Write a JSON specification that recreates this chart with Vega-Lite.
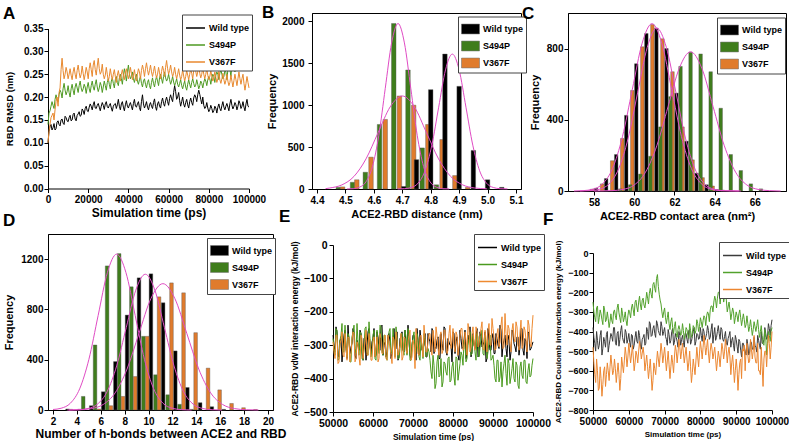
{
  "$schema": "https://vega.github.io/schema/vega-lite/v6.json",
  "padding": {"left": 2, "top": 3, "right": 0, "bottom": 0},
  "config": {
    "font": "Liberation Sans",
    "view": {"stroke": null},
    "axis": {
      "labelFont": "Liberation Sans", "labelFontWeight": "bold", "labelColor": "black", "labelFontSize": 10,
      "titleFont": "Liberation Sans", "titleFontWeight": "bold", "titleColor": "black",
      "domainColor": "black", "tickColor": "black", "grid": false, "tickSize": 4,
      "labelPadding": 2, "labelFlush": false, "labelOverlap": false
    },
    "legend": {
      "labelFont": "Liberation Sans", "labelFontWeight": "bold", "labelFontSize": 9, "labelColor": "black",
      "strokeColor": "#444", "fillColor": "white", "padding": 3, "rowPadding": 1, "labelOffset": 3
    },
    "title": {"font": "Liberation Sans", "fontSize": 17, "fontWeight": "bold", "color": "black", "anchor": "start", "frame": "group", "offset": 0, "baseline": "alphabetic"}
  },
  "datasets": {
    "aW": [{"t":0,"v":0.1},{"t":1000,"v":0.135},{"t":2000,"v":0.128},{"t":3000,"v":0.142},{"t":4000,"v":0.131},{"t":5000,"v":0.148},{"t":6000,"v":0.137},{"t":7000,"v":0.152},{"t":8000,"v":0.14},{"t":9000,"v":0.155},{"t":10000,"v":0.146},{"t":11000,"v":0.16},{"t":12000,"v":0.15},{"t":13000,"v":0.165},{"t":14000,"v":0.148},{"t":15000,"v":0.163},{"t":16000,"v":0.158},{"t":17000,"v":0.174},{"t":18000,"v":0.162},{"t":19000,"v":0.18},{"t":20000,"v":0.168},{"t":21000,"v":0.185},{"t":22000,"v":0.172},{"t":23000,"v":0.19},{"t":24000,"v":0.175},{"t":25000,"v":0.186},{"t":26000,"v":0.17},{"t":27000,"v":0.188},{"t":28000,"v":0.173},{"t":29000,"v":0.19},{"t":30000,"v":0.176},{"t":31000,"v":0.186},{"t":32000,"v":0.169},{"t":33000,"v":0.184},{"t":34000,"v":0.175},{"t":35000,"v":0.195},{"t":36000,"v":0.172},{"t":37000,"v":0.19},{"t":38000,"v":0.17},{"t":39000,"v":0.192},{"t":40000,"v":0.176},{"t":41000,"v":0.188},{"t":42000,"v":0.172},{"t":43000,"v":0.195},{"t":44000,"v":0.178},{"t":45000,"v":0.19},{"t":46000,"v":0.17},{"t":47000,"v":0.205},{"t":48000,"v":0.176},{"t":49000,"v":0.19},{"t":50000,"v":0.172},{"t":51000,"v":0.188},{"t":52000,"v":0.175},{"t":53000,"v":0.196},{"t":54000,"v":0.171},{"t":55000,"v":0.19},{"t":56000,"v":0.176},{"t":57000,"v":0.198},{"t":58000,"v":0.18},{"t":59000,"v":0.2},{"t":60000,"v":0.182},{"t":61000,"v":0.205},{"t":62000,"v":0.19},{"t":63000,"v":0.225},{"t":64000,"v":0.195},{"t":65000,"v":0.21},{"t":66000,"v":0.18},{"t":67000,"v":0.2},{"t":68000,"v":0.178},{"t":69000,"v":0.195},{"t":70000,"v":0.176},{"t":71000,"v":0.198},{"t":72000,"v":0.182},{"t":73000,"v":0.205},{"t":74000,"v":0.19},{"t":75000,"v":0.215},{"t":76000,"v":0.195},{"t":77000,"v":0.2},{"t":78000,"v":0.175},{"t":79000,"v":0.188},{"t":80000,"v":0.168},{"t":81000,"v":0.182},{"t":82000,"v":0.166},{"t":83000,"v":0.18},{"t":84000,"v":0.165},{"t":85000,"v":0.185},{"t":86000,"v":0.17},{"t":87000,"v":0.19},{"t":88000,"v":0.172},{"t":89000,"v":0.186},{"t":90000,"v":0.17},{"t":91000,"v":0.195},{"t":92000,"v":0.174},{"t":93000,"v":0.188},{"t":94000,"v":0.172},{"t":95000,"v":0.192},{"t":96000,"v":0.175},{"t":97000,"v":0.19},{"t":98000,"v":0.17},{"t":99000,"v":0.195},{"t":100000,"v":0.178},
      {"t":500,"v":0.125},{"t":1500,"v":0.14},{"t":2500,"v":0.133},{"t":3500,"v":0.128},{"t":4500,"v":0.145},{"t":5500,"v":0.14},{"t":6500,"v":0.15},{"t":7500,"v":0.143},{"t":8500,"v":0.158},{"t":9500,"v":0.148},{"t":10500,"v":0.155},{"t":11500,"v":0.148},{"t":12500,"v":0.162},{"t":13500,"v":0.152},{"t":14500,"v":0.16},{"t":15500,"v":0.168},{"t":16500,"v":0.16},{"t":17500,"v":0.17},{"t":18500,"v":0.175},{"t":19500,"v":0.17},{"t":20500,"v":0.178},{"t":21500,"v":0.18},{"t":22500,"v":0.183},{"t":23500,"v":0.176},{"t":24500,"v":0.182},{"t":25500,"v":0.178},{"t":26500,"v":0.18},{"t":27500,"v":0.182},{"t":28500,"v":0.185},{"t":29500,"v":0.179},{"t":30500,"v":0.182},{"t":31500,"v":0.176},{"t":32500,"v":0.18},{"t":33500,"v":0.186},{"t":34500,"v":0.183},{"t":35500,"v":0.18},{"t":36500,"v":0.185},{"t":37500,"v":0.178},{"t":38500,"v":0.183},{"t":39500,"v":0.18},{"t":40500,"v":0.183},{"t":41500,"v":0.18},{"t":42500,"v":0.186},{"t":43500,"v":0.18},{"t":44500,"v":0.185},{"t":45500,"v":0.177},{"t":46500,"v":0.19},{"t":47500,"v":0.185},{"t":48500,"v":0.182},{"t":49500,"v":0.178},{"t":50500,"v":0.183},{"t":51500,"v":0.18},{"t":52500,"v":0.188},{"t":53500,"v":0.179},{"t":54500,"v":0.185},{"t":55500,"v":0.18},{"t":56500,"v":0.19},{"t":57500,"v":0.186},{"t":58500,"v":0.192},{"t":59500,"v":0.19},{"t":60500,"v":0.197},{"t":61500,"v":0.196},{"t":62500,"v":0.21},{"t":63500,"v":0.212},{"t":64500,"v":0.2},{"t":65500,"v":0.192},{"t":66500,"v":0.19},{"t":67500,"v":0.185},{"t":68500,"v":0.188},{"t":69500,"v":0.183},{"t":70500,"v":0.19},{"t":71500,"v":0.188},{"t":72500,"v":0.198},{"t":73500,"v":0.2},{"t":74500,"v":0.205},{"t":75500,"v":0.206},{"t":76500,"v":0.185},{"t":77500,"v":0.182},{"t":78500,"v":0.178},{"t":79500,"v":0.176},{"t":80500,"v":0.173},{"t":81500,"v":0.175},{"t":82500,"v":0.17},{"t":83500,"v":0.176},{"t":84500,"v":0.178},{"t":85500,"v":0.175},{"t":86500,"v":0.181},{"t":87500,"v":0.178},{"t":88500,"v":0.18},{"t":89500,"v":0.178},{"t":90500,"v":0.185},{"t":91500,"v":0.182},{"t":92500,"v":0.18},{"t":93500,"v":0.183},{"t":94500,"v":0.18},{"t":95500,"v":0.186},{"t":96500,"v":0.18},{"t":97500,"v":0.178},{"t":98500,"v":0.185},{"t":99500,"v":0.18}],
    "aS": [{"t":0,"v":0.14},{"t":1000,"v":0.17},{"t":2000,"v":0.19},{"t":3000,"v":0.175},{"t":4000,"v":0.205},{"t":5000,"v":0.19},{"t":6000,"v":0.215},{"t":7000,"v":0.198},{"t":8000,"v":0.23},{"t":9000,"v":0.205},{"t":10000,"v":0.225},{"t":11000,"v":0.2},{"t":12000,"v":0.228},{"t":13000,"v":0.205},{"t":14000,"v":0.23},{"t":15000,"v":0.21},{"t":16000,"v":0.235},{"t":17000,"v":0.212},{"t":18000,"v":0.228},{"t":19000,"v":0.208},{"t":20000,"v":0.232},{"t":21000,"v":0.21},{"t":22000,"v":0.235},{"t":23000,"v":0.215},{"t":24000,"v":0.238},{"t":25000,"v":0.212},{"t":26000,"v":0.232},{"t":27000,"v":0.21},{"t":28000,"v":0.235},{"t":29000,"v":0.215},{"t":30000,"v":0.24},{"t":31000,"v":0.218},{"t":32000,"v":0.242},{"t":33000,"v":0.22},{"t":34000,"v":0.245},{"t":35000,"v":0.225},{"t":36000,"v":0.25},{"t":37000,"v":0.228},{"t":38000,"v":0.262},{"t":39000,"v":0.235},{"t":40000,"v":0.27},{"t":41000,"v":0.24},{"t":42000,"v":0.255},{"t":43000,"v":0.232},{"t":44000,"v":0.25},{"t":45000,"v":0.228},{"t":46000,"v":0.245},{"t":47000,"v":0.222},{"t":48000,"v":0.24},{"t":49000,"v":0.22},{"t":50000,"v":0.238},{"t":51000,"v":0.218},{"t":52000,"v":0.242},{"t":53000,"v":0.222},{"t":54000,"v":0.245},{"t":55000,"v":0.225},{"t":56000,"v":0.25},{"t":57000,"v":0.23},{"t":58000,"v":0.255},{"t":59000,"v":0.235},{"t":60000,"v":0.25},{"t":61000,"v":0.228},{"t":62000,"v":0.245},{"t":63000,"v":0.225},{"t":64000,"v":0.24},{"t":65000,"v":0.222},{"t":66000,"v":0.238},{"t":67000,"v":0.218},{"t":68000,"v":0.235},{"t":69000,"v":0.215},{"t":70000,"v":0.238},{"t":71000,"v":0.22},{"t":72000,"v":0.24},{"t":73000,"v":0.222},{"t":74000,"v":0.238},{"t":75000,"v":0.218},{"t":76000,"v":0.235},{"t":77000,"v":0.22},{"t":78000,"v":0.24},{"t":79000,"v":0.225},{"t":80000,"v":0.245},{"t":81000,"v":0.228},{"t":82000,"v":0.25},{"t":83000,"v":0.232},{"t":84000,"v":0.255},{"t":85000,"v":0.238},{"t":86000,"v":0.26},{"t":87000,"v":0.24},{"t":88000,"v":0.258},{"t":89000,"v":0.238},{"t":90000,"v":0.27},{"t":91000,"v":0.245},{"t":92000,"v":0.28},{"t":93000,"v":0.255},{"t":94000,"v":0.3},{"t":95000,"v":0.262},{"t":96000,"v":0.285},{"t":97000,"v":0.26},{"t":98000,"v":0.29},{"t":99000,"v":0.265},{"t":100000,"v":0.3},
      {"t":500,"v":0.165},{"t":1500,"v":0.18},{"t":2500,"v":0.182},{"t":3500,"v":0.195},{"t":4500,"v":0.195},{"t":5500,"v":0.205},{"t":6500,"v":0.21},{"t":7500,"v":0.218},{"t":8500,"v":0.215},{"t":9500,"v":0.212},{"t":10500,"v":0.21},{"t":11500,"v":0.218},{"t":12500,"v":0.215},{"t":13500,"v":0.222},{"t":14500,"v":0.22},{"t":15500,"v":0.225},{"t":16500,"v":0.22},{"t":17500,"v":0.218},{"t":18500,"v":0.222},{"t":19500,"v":0.222},{"t":20500,"v":0.218},{"t":21500,"v":0.225},{"t":22500,"v":0.222},{"t":23500,"v":0.228},{"t":24500,"v":0.222},{"t":25500,"v":0.22},{"t":26500,"v":0.225},{"t":27500,"v":0.222},{"t":28500,"v":0.225},{"t":29500,"v":0.232},{"t":30500,"v":0.228},{"t":31500,"v":0.235},{"t":32500,"v":0.23},{"t":33500,"v":0.238},{"t":34500,"v":0.232},{"t":35500,"v":0.242},{"t":36500,"v":0.24},{"t":37500,"v":0.248},{"t":38500,"v":0.25},{"t":39500,"v":0.255},{"t":40500,"v":0.25},{"t":41500,"v":0.245},{"t":42500,"v":0.24},{"t":43500,"v":0.243},{"t":44500,"v":0.235},{"t":45500,"v":0.238},{"t":46500,"v":0.23},{"t":47500,"v":0.235},{"t":48500,"v":0.228},{"t":49500,"v":0.232},{"t":50500,"v":0.225},{"t":51500,"v":0.232},{"t":52500,"v":0.23},{"t":53500,"v":0.236},{"t":54500,"v":0.235},{"t":55500,"v":0.242},{"t":56500,"v":0.24},{"t":57500,"v":0.245},{"t":58500,"v":0.242},{"t":59500,"v":0.24},{"t":60500,"v":0.238},{"t":61500,"v":0.235},{"t":62500,"v":0.233},{"t":63500,"v":0.232},{"t":64500,"v":0.228},{"t":65500,"v":0.23},{"t":66500,"v":0.225},{"t":67500,"v":0.228},{"t":68500,"v":0.222},{"t":69500,"v":0.228},{"t":70500,"v":0.228},{"t":71500,"v":0.232},{"t":72500,"v":0.23},{"t":73500,"v":0.226},{"t":74500,"v":0.228},{"t":75500,"v":0.225},{"t":76500,"v":0.23},{"t":77500,"v":0.232},{"t":78500,"v":0.235},{"t":79500,"v":0.238},{"t":80500,"v":0.24},{"t":81500,"v":0.242},{"t":82500,"v":0.245},{"t":83500,"v":0.248},{"t":84500,"v":0.25},{"t":85500,"v":0.252},{"t":86500,"v":0.25},{"t":87500,"v":0.245},{"t":88500,"v":0.255},{"t":89500,"v":0.26},{"t":90500,"v":0.262},{"t":91500,"v":0.27},{"t":92500,"v":0.275},{"t":93500,"v":0.285},{"t":94500,"v":0.275},{"t":95500,"v":0.27},{"t":96500,"v":0.275},{"t":97500,"v":0.28},{"t":98500,"v":0.282},{"t":99500,"v":0.285}],
    "aV": [{"t":0,"v":0.1},{"t":1000,"v":0.14},{"t":2000,"v":0.16},{"t":3000,"v":0.15},{"t":4000,"v":0.19},{"t":5000,"v":0.18},{"t":6000,"v":0.22},{"t":7000,"v":0.285},{"t":8000,"v":0.24},{"t":9000,"v":0.265},{"t":10000,"v":0.24},{"t":11000,"v":0.262},{"t":12000,"v":0.238},{"t":13000,"v":0.265},{"t":14000,"v":0.24},{"t":15000,"v":0.27},{"t":16000,"v":0.242},{"t":17000,"v":0.268},{"t":18000,"v":0.238},{"t":19000,"v":0.265},{"t":20000,"v":0.24},{"t":21000,"v":0.275},{"t":22000,"v":0.245},{"t":23000,"v":0.28},{"t":24000,"v":0.248},{"t":25000,"v":0.285},{"t":26000,"v":0.25},{"t":27000,"v":0.272},{"t":28000,"v":0.24},{"t":29000,"v":0.265},{"t":30000,"v":0.235},{"t":31000,"v":0.262},{"t":32000,"v":0.238},{"t":33000,"v":0.26},{"t":34000,"v":0.232},{"t":35000,"v":0.258},{"t":36000,"v":0.235},{"t":37000,"v":0.26},{"t":38000,"v":0.238},{"t":39000,"v":0.262},{"t":40000,"v":0.24},{"t":41000,"v":0.265},{"t":42000,"v":0.238},{"t":43000,"v":0.26},{"t":44000,"v":0.235},{"t":45000,"v":0.262},{"t":46000,"v":0.24},{"t":47000,"v":0.27},{"t":48000,"v":0.245},{"t":49000,"v":0.275},{"t":50000,"v":0.248},{"t":51000,"v":0.27},{"t":52000,"v":0.245},{"t":53000,"v":0.268},{"t":54000,"v":0.242},{"t":55000,"v":0.265},{"t":56000,"v":0.24},{"t":57000,"v":0.268},{"t":58000,"v":0.245},{"t":59000,"v":0.28},{"t":60000,"v":0.25},{"t":61000,"v":0.27},{"t":62000,"v":0.245},{"t":63000,"v":0.265},{"t":64000,"v":0.24},{"t":65000,"v":0.262},{"t":66000,"v":0.238},{"t":67000,"v":0.26},{"t":68000,"v":0.235},{"t":69000,"v":0.258},{"t":70000,"v":0.238},{"t":71000,"v":0.262},{"t":72000,"v":0.24},{"t":73000,"v":0.27},{"t":74000,"v":0.245},{"t":75000,"v":0.268},{"t":76000,"v":0.242},{"t":77000,"v":0.265},{"t":78000,"v":0.24},{"t":79000,"v":0.262},{"t":80000,"v":0.238},{"t":81000,"v":0.258},{"t":82000,"v":0.235},{"t":83000,"v":0.255},{"t":84000,"v":0.232},{"t":85000,"v":0.256},{"t":86000,"v":0.23},{"t":87000,"v":0.252},{"t":88000,"v":0.228},{"t":89000,"v":0.25},{"t":90000,"v":0.225},{"t":91000,"v":0.248},{"t":92000,"v":0.222},{"t":93000,"v":0.25},{"t":94000,"v":0.225},{"t":95000,"v":0.255},{"t":96000,"v":0.228},{"t":97000,"v":0.25},{"t":98000,"v":0.215},{"t":99000,"v":0.245},{"t":100000,"v":0.22},
      {"t":500,"v":0.125},{"t":1500,"v":0.155},{"t":2500,"v":0.165},{"t":3500,"v":0.172},{"t":4500,"v":0.2},{"t":5500,"v":0.21},{"t":6500,"v":0.26},{"t":7500,"v":0.258},{"t":8500,"v":0.25},{"t":9500,"v":0.255},{"t":10500,"v":0.25},{"t":11500,"v":0.248},{"t":12500,"v":0.255},{"t":13500,"v":0.25},{"t":14500,"v":0.258},{"t":15500,"v":0.254},{"t":16500,"v":0.25},{"t":17500,"v":0.252},{"t":18500,"v":0.25},{"t":19500,"v":0.255},{"t":20500,"v":0.262},{"t":21500,"v":0.26},{"t":22500,"v":0.27},{"t":23500,"v":0.26},{"t":24500,"v":0.268},{"t":25500,"v":0.262},{"t":26500,"v":0.255},{"t":27500,"v":0.25},{"t":28500,"v":0.248},{"t":29500,"v":0.25},{"t":30500,"v":0.245},{"t":31500,"v":0.248},{"t":32500,"v":0.25},{"t":33500,"v":0.245},{"t":34500,"v":0.248},{"t":35500,"v":0.245},{"t":36500,"v":0.25},{"t":37500,"v":0.248},{"t":38500,"v":0.252},{"t":39500,"v":0.25},{"t":40500,"v":0.25},{"t":41500,"v":0.252},{"t":42500,"v":0.248},{"t":43500,"v":0.245},{"t":44500,"v":0.25},{"t":45500,"v":0.255},{"t":46500,"v":0.258},{"t":47500,"v":0.26},{"t":48500,"v":0.262},{"t":49500,"v":0.26},{"t":50500,"v":0.258},{"t":51500,"v":0.255},{"t":52500,"v":0.256},{"t":53500,"v":0.252},{"t":54500,"v":0.25},{"t":55500,"v":0.253},{"t":56500,"v":0.256},{"t":57500,"v":0.258},{"t":58500,"v":0.265},{"t":59500,"v":0.262},{"t":60500,"v":0.258},{"t":61500,"v":0.255},{"t":62500,"v":0.252},{"t":63500,"v":0.25},{"t":64500,"v":0.25},{"t":65500,"v":0.248},{"t":66500,"v":0.245},{"t":67500,"v":0.246},{"t":68500,"v":0.245},{"t":69500,"v":0.248},{"t":70500,"v":0.25},{"t":71500,"v":0.252},{"t":72500,"v":0.258},{"t":73500,"v":0.256},{"t":74500,"v":0.255},{"t":75500,"v":0.252},{"t":76500,"v":0.25},{"t":77500,"v":0.25},{"t":78500,"v":0.25},{"t":79500,"v":0.248},{"t":80500,"v":0.245},{"t":81500,"v":0.245},{"t":82500,"v":0.242},{"t":83500,"v":0.243},{"t":84500,"v":0.24},{"t":85500,"v":0.238},{"t":86500,"v":0.24},{"t":87500,"v":0.238},{"t":88500,"v":0.236},{"t":89500,"v":0.235},{"t":90500,"v":0.232},{"t":91500,"v":0.235},{"t":92500,"v":0.236},{"t":93500,"v":0.238},{"t":94500,"v":0.24},{"t":95500,"v":0.24},{"t":96500,"v":0.24},{"t":97500,"v":0.23},{"t":98500,"v":0.23},{"t":99500,"v":0.232}],
    "eW": [{"t":50000,"v":-270},{"t":50500,"v":-320},{"t":51000,"v":-260},{"t":51500,"v":-335},{"t":52000,"v":-280},{"t":52500,"v":-310},{"t":53000,"v":-255},{"t":53500,"v":-340},{"t":54000,"v":-290},{"t":54500,"v":-305},{"t":55000,"v":-250},{"t":55500,"v":-330},{"t":56000,"v":-285},{"t":56500,"v":-315},{"t":57000,"v":-265},{"t":57500,"v":-345},{"t":58000,"v":-275},{"t":58500,"v":-300},{"t":59000,"v":-250},{"t":59500,"v":-325},{"t":60000,"v":-280},{"t":60500,"v":-335},{"t":61000,"v":-260},{"t":61500,"v":-310},{"t":62000,"v":-245},{"t":62500,"v":-330},{"t":63000,"v":-290},{"t":63500,"v":-320},{"t":64000,"v":-265},{"t":64500,"v":-340},{"t":65000,"v":-285},{"t":65500,"v":-305},{"t":66000,"v":-260},{"t":66500,"v":-335},{"t":67000,"v":-275},{"t":67500,"v":-315},{"t":68000,"v":-255},{"t":68500,"v":-325},{"t":69000,"v":-290},{"t":69500,"v":-340},{"t":70000,"v":-270},{"t":70500,"v":-300},{"t":71000,"v":-250},{"t":71500,"v":-330},{"t":72000,"v":-285},{"t":72500,"v":-310},{"t":73000,"v":-265},{"t":73500,"v":-335},{"t":74000,"v":-280},{"t":74500,"v":-320},{"t":75000,"v":-260},{"t":75500,"v":-305},{"t":76000,"v":-285},{"t":76500,"v":-340},{"t":77000,"v":-265},{"t":77500,"v":-315},{"t":78000,"v":-250},{"t":78500,"v":-330},{"t":79000,"v":-290},{"t":79500,"v":-300},{"t":80000,"v":-260},{"t":80500,"v":-325},{"t":81000,"v":-275},{"t":81500,"v":-345},{"t":82000,"v":-280},{"t":82500,"v":-305},{"t":83000,"v":-255},{"t":83500,"v":-320},{"t":84000,"v":-290},{"t":84500,"v":-335},{"t":85000,"v":-265},{"t":85500,"v":-310},{"t":86000,"v":-250},{"t":86500,"v":-330},{"t":87000,"v":-275},{"t":87500,"v":-300},{"t":88000,"v":-260},{"t":88500,"v":-340},{"t":89000,"v":-285},{"t":89500,"v":-315},{"t":90000,"v":-265},{"t":90500,"v":-325},{"t":91000,"v":-280},{"t":91500,"v":-310},{"t":92000,"v":-255},{"t":92500,"v":-300},{"t":93000,"v":-270},{"t":93500,"v":-335},{"t":94000,"v":-285},{"t":94500,"v":-320},{"t":95000,"v":-260},{"t":95500,"v":-305},{"t":96000,"v":-275},{"t":96500,"v":-330},{"t":97000,"v":-250},{"t":97500,"v":-315},{"t":98000,"v":-280},{"t":98500,"v":-340},{"t":99000,"v":-265},{"t":99500,"v":-310},{"t":100000,"v":-290},
      {"t":50250,"v":-300},{"t":50750,"v":-245},{"t":51250,"v":-330},{"t":51750,"v":-285},{"t":52250,"v":-350},{"t":52750,"v":-270},{"t":53250,"v":-310},{"t":53750,"v":-240},{"t":54250,"v":-325},{"t":54750,"v":-295},{"t":55250,"v":-265},{"t":55750,"v":-340},{"t":56250,"v":-300},{"t":56750,"v":-255},{"t":57250,"v":-320},{"t":57750,"v":-280},{"t":58250,"v":-345},{"t":58750,"v":-260},{"t":59250,"v":-305},{"t":59750,"v":-290},{"t":60250,"v":-250},{"t":60750,"v":-330},{"t":61250,"v":-275},{"t":61750,"v":-315},{"t":62250,"v":-240},{"t":62750,"v":-300},{"t":63250,"v":-335},{"t":63750,"v":-270},{"t":64250,"v":-290},{"t":64750,"v":-325},{"t":65250,"v":-250},{"t":65750,"v":-310},{"t":66250,"v":-345},{"t":66750,"v":-280},{"t":67250,"v":-260},{"t":67750,"v":-320},{"t":68250,"v":-295},{"t":68750,"v":-240},{"t":69250,"v":-330},{"t":69750,"v":-305},{"t":70250,"v":-270},{"t":70750,"v":-345},{"t":71250,"v":-285},{"t":71750,"v":-255},{"t":72250,"v":-315},{"t":72750,"v":-300},{"t":73250,"v":-335},{"t":73750,"v":-265},{"t":74250,"v":-290},{"t":74750,"v":-250},{"t":75250,"v":-325},{"t":75750,"v":-310},{"t":76250,"v":-275},{"t":76750,"v":-340},{"t":77250,"v":-295},{"t":77750,"v":-245},{"t":78250,"v":-320},{"t":78750,"v":-280},{"t":79250,"v":-300},{"t":79750,"v":-350},{"t":80250,"v":-265},{"t":80750,"v":-290},{"t":81250,"v":-330},{"t":81750,"v":-255},{"t":82250,"v":-310},{"t":82750,"v":-285},{"t":83250,"v":-340},{"t":83750,"v":-270},{"t":84250,"v":-245},{"t":84750,"v":-320},{"t":85250,"v":-300},{"t":85750,"v":-275},{"t":86250,"v":-335},{"t":86750,"v":-260},{"t":87250,"v":-305},{"t":87750,"v":-290},{"t":88250,"v":-350},{"t":88750,"v":-250},{"t":89250,"v":-315},{"t":89750,"v":-280},{"t":90250,"v":-325},{"t":90750,"v":-265},{"t":91250,"v":-300},{"t":91750,"v":-240},{"t":92250,"v":-335},{"t":92750,"v":-285},{"t":93250,"v":-310},{"t":93750,"v":-270},{"t":94250,"v":-345},{"t":94750,"v":-255},{"t":95250,"v":-295},{"t":95750,"v":-320},{"t":96250,"v":-275},{"t":96750,"v":-305},{"t":97250,"v":-250},{"t":97750,"v":-330},{"t":98250,"v":-290},{"t":98750,"v":-260},{"t":99250,"v":-315},{"t":99750,"v":-300}],
    "eS": [{"t":50000,"v":-280},{"t":50500,"v":-330},{"t":51000,"v":-255},{"t":51500,"v":-340},{"t":52000,"v":-270},{"t":52500,"v":-320},{"t":53000,"v":-240},{"t":53500,"v":-335},{"t":54000,"v":-275},{"t":54500,"v":-350},{"t":55000,"v":-260},{"t":55500,"v":-310},{"t":56000,"v":-235},{"t":56500,"v":-330},{"t":57000,"v":-265},{"t":57500,"v":-345},{"t":58000,"v":-250},{"t":58500,"v":-320},{"t":59000,"v":-230},{"t":59500,"v":-335},{"t":60000,"v":-270},{"t":60500,"v":-340},{"t":61000,"v":-255},{"t":61500,"v":-325},{"t":62000,"v":-245},{"t":62500,"v":-330},{"t":63000,"v":-270},{"t":63500,"v":-345},{"t":64000,"v":-260},{"t":64500,"v":-320},{"t":65000,"v":-250},{"t":65500,"v":-335},{"t":66000,"v":-275},{"t":66500,"v":-340},{"t":67000,"v":-265},{"t":67500,"v":-315},{"t":68000,"v":-255},{"t":68500,"v":-330},{"t":69000,"v":-270},{"t":69500,"v":-345},{"t":70000,"v":-280},{"t":70500,"v":-325},{"t":71000,"v":-265},{"t":71500,"v":-335},{"t":72000,"v":-285},{"t":72500,"v":-340},{"t":73000,"v":-290},{"t":73500,"v":-330},{"t":74000,"v":-320},{"t":74500,"v":-380},{"t":75000,"v":-330},{"t":75500,"v":-430},{"t":76000,"v":-350},{"t":76500,"v":-395},{"t":77000,"v":-340},{"t":77500,"v":-410},{"t":78000,"v":-355},{"t":78500,"v":-390},{"t":79000,"v":-335},{"t":79500,"v":-405},{"t":80000,"v":-350},{"t":80500,"v":-420},{"t":81000,"v":-340},{"t":81500,"v":-380},{"t":82000,"v":-320},{"t":82500,"v":-360},{"t":83000,"v":-300},{"t":83500,"v":-340},{"t":84000,"v":-280},{"t":84500,"v":-330},{"t":85000,"v":-270},{"t":85500,"v":-320},{"t":86000,"v":-265},{"t":86500,"v":-335},{"t":87000,"v":-280},{"t":87500,"v":-325},{"t":88000,"v":-270},{"t":88500,"v":-340},{"t":89000,"v":-290},{"t":89500,"v":-345},{"t":90000,"v":-330},{"t":90500,"v":-400},{"t":91000,"v":-345},{"t":91500,"v":-410},{"t":92000,"v":-350},{"t":92500,"v":-380},{"t":93000,"v":-330},{"t":93500,"v":-420},{"t":94000,"v":-355},{"t":94500,"v":-395},{"t":95000,"v":-340},{"t":95500,"v":-410},{"t":96000,"v":-360},{"t":96500,"v":-430},{"t":97000,"v":-350},{"t":97500,"v":-400},{"t":98000,"v":-345},{"t":98500,"v":-415},{"t":99000,"v":-355},{"t":99500,"v":-390},{"t":100000,"v":-340},
      {"t":50250,"v":-310},{"t":50750,"v":-250},{"t":51250,"v":-345},{"t":51750,"v":-285},{"t":52250,"v":-235},{"t":52750,"v":-320},{"t":53250,"v":-300},{"t":53750,"v":-265},{"t":54250,"v":-350},{"t":54750,"v":-275},{"t":55250,"v":-240},{"t":55750,"v":-325},{"t":56250,"v":-290},{"t":56750,"v":-260},{"t":57250,"v":-340},{"t":57750,"v":-305},{"t":58250,"v":-245},{"t":58750,"v":-330},{"t":59250,"v":-280},{"t":59750,"v":-315},{"t":60250,"v":-255},{"t":60750,"v":-345},{"t":61250,"v":-295},{"t":61750,"v":-240},{"t":62250,"v":-320},{"t":62750,"v":-270},{"t":63250,"v":-335},{"t":63750,"v":-300},{"t":64250,"v":-250},{"t":64750,"v":-325},{"t":65250,"v":-285},{"t":65750,"v":-245},{"t":66250,"v":-340},{"t":66750,"v":-310},{"t":67250,"v":-265},{"t":67750,"v":-330},{"t":68250,"v":-275},{"t":68750,"v":-250},{"t":69250,"v":-345},{"t":69750,"v":-295},{"t":70250,"v":-260},{"t":70750,"v":-320},{"t":71250,"v":-280},{"t":71750,"v":-345},{"t":72250,"v":-300},{"t":72750,"v":-265},{"t":73250,"v":-335},{"t":73750,"v":-310},{"t":74250,"v":-345},{"t":74750,"v":-400},{"t":75250,"v":-360},{"t":75750,"v":-415},{"t":76250,"v":-330},{"t":76750,"v":-390},{"t":77250,"v":-425},{"t":77750,"v":-350},{"t":78250,"v":-380},{"t":78750,"v":-340},{"t":79250,"v":-410},{"t":79750,"v":-365},{"t":80250,"v":-395},{"t":80750,"v":-335},{"t":81250,"v":-405},{"t":81750,"v":-355},{"t":82250,"v":-330},{"t":82750,"v":-285},{"t":83250,"v":-350},{"t":83750,"v":-300},{"t":84250,"v":-260},{"t":84750,"v":-325},{"t":85250,"v":-290},{"t":85750,"v":-345},{"t":86250,"v":-275},{"t":86750,"v":-310},{"t":87250,"v":-255},{"t":87750,"v":-330},{"t":88250,"v":-295},{"t":88750,"v":-320},{"t":89250,"v":-270},{"t":89750,"v":-340},{"t":90250,"v":-360},{"t":90750,"v":-410},{"t":91250,"v":-345},{"t":91750,"v":-395},{"t":92250,"v":-425},{"t":92750,"v":-355},{"t":93250,"v":-385},{"t":93750,"v":-340},{"t":94250,"v":-415},{"t":94750,"v":-370},{"t":95250,"v":-400},{"t":95750,"v":-350},{"t":96250,"v":-420},{"t":96750,"v":-365},{"t":97250,"v":-390},{"t":97750,"v":-345},{"t":98250,"v":-410},{"t":98750,"v":-375},{"t":99250,"v":-395},{"t":99750,"v":-360}],
    "eV": [{"t":50000,"v":-290},{"t":50500,"v":-340},{"t":51000,"v":-270},{"t":51500,"v":-350},{"t":52000,"v":-285},{"t":52500,"v":-330},{"t":53000,"v":-265},{"t":53500,"v":-345},{"t":54000,"v":-280},{"t":54500,"v":-325},{"t":55000,"v":-260},{"t":55500,"v":-350},{"t":56000,"v":-290},{"t":56500,"v":-335},{"t":57000,"v":-270},{"t":57500,"v":-340},{"t":58000,"v":-285},{"t":58500,"v":-330},{"t":59000,"v":-265},{"t":59500,"v":-345},{"t":60000,"v":-290},{"t":60500,"v":-335},{"t":61000,"v":-275},{"t":61500,"v":-340},{"t":62000,"v":-280},{"t":62500,"v":-325},{"t":63000,"v":-270},{"t":63500,"v":-345},{"t":64000,"v":-290},{"t":64500,"v":-330},{"t":65000,"v":-275},{"t":65500,"v":-340},{"t":66000,"v":-285},{"t":66500,"v":-320},{"t":67000,"v":-265},{"t":67500,"v":-335},{"t":68000,"v":-280},{"t":68500,"v":-325},{"t":69000,"v":-270},{"t":69500,"v":-345},{"t":70000,"v":-285},{"t":70500,"v":-370},{"t":71000,"v":-290},{"t":71500,"v":-330},{"t":72000,"v":-270},{"t":72500,"v":-335},{"t":73000,"v":-280},{"t":73500,"v":-320},{"t":74000,"v":-265},{"t":74500,"v":-315},{"t":75000,"v":-255},{"t":75500,"v":-320},{"t":76000,"v":-270},{"t":76500,"v":-330},{"t":77000,"v":-260},{"t":77500,"v":-315},{"t":78000,"v":-255},{"t":78500,"v":-325},{"t":79000,"v":-265},{"t":79500,"v":-310},{"t":80000,"v":-250},{"t":80500,"v":-320},{"t":81000,"v":-270},{"t":81500,"v":-305},{"t":82000,"v":-250},{"t":82500,"v":-315},{"t":83000,"v":-260},{"t":83500,"v":-330},{"t":84000,"v":-255},{"t":84500,"v":-305},{"t":85000,"v":-245},{"t":85500,"v":-315},{"t":86000,"v":-260},{"t":86500,"v":-300},{"t":87000,"v":-250},{"t":87500,"v":-310},{"t":88000,"v":-255},{"t":88500,"v":-320},{"t":89000,"v":-235},{"t":89500,"v":-300},{"t":90000,"v":-250},{"t":90500,"v":-315},{"t":91000,"v":-265},{"t":91500,"v":-305},{"t":92000,"v":-240},{"t":92500,"v":-310},{"t":93000,"v":-205},{"t":93500,"v":-300},{"t":94000,"v":-250},{"t":94500,"v":-320},{"t":95000,"v":-235},{"t":95500,"v":-290},{"t":96000,"v":-245},{"t":96500,"v":-315},{"t":97000,"v":-225},{"t":97500,"v":-300},{"t":98000,"v":-255},{"t":98500,"v":-320},{"t":99000,"v":-240},{"t":99500,"v":-305},{"t":100000,"v":-210},
      {"t":50250,"v":-320},{"t":50750,"v":-270},{"t":51250,"v":-355},{"t":51750,"v":-295},{"t":52250,"v":-260},{"t":52750,"v":-335},{"t":53250,"v":-305},{"t":53750,"v":-275},{"t":54250,"v":-350},{"t":54750,"v":-285},{"t":55250,"v":-265},{"t":55750,"v":-340},{"t":56250,"v":-300},{"t":56750,"v":-360},{"t":57250,"v":-280},{"t":57750,"v":-315},{"t":58250,"v":-255},{"t":58750,"v":-330},{"t":59250,"v":-295},{"t":59750,"v":-345},{"t":60250,"v":-275},{"t":60750,"v":-310},{"t":61250,"v":-350},{"t":61750,"v":-265},{"t":62250,"v":-325},{"t":62750,"v":-290},{"t":63250,"v":-340},{"t":63750,"v":-270},{"t":64250,"v":-305},{"t":64750,"v":-355},{"t":65250,"v":-285},{"t":65750,"v":-260},{"t":66250,"v":-330},{"t":66750,"v":-300},{"t":67250,"v":-345},{"t":67750,"v":-275},{"t":68250,"v":-315},{"t":68750,"v":-290},{"t":69250,"v":-255},{"t":69750,"v":-335},{"t":70250,"v":-300},{"t":70750,"v":-250},{"t":71250,"v":-325},{"t":71750,"v":-275},{"t":72250,"v":-305},{"t":72750,"v":-240},{"t":73250,"v":-320},{"t":73750,"v":-290},{"t":74250,"v":-265},{"t":74750,"v":-330},{"t":75250,"v":-280},{"t":75750,"v":-245},{"t":76250,"v":-310},{"t":76750,"v":-270},{"t":77250,"v":-325},{"t":77750,"v":-255},{"t":78250,"v":-295},{"t":78750,"v":-315},{"t":79250,"v":-240},{"t":79750,"v":-285},{"t":80250,"v":-300},{"t":80750,"v":-260},{"t":81250,"v":-330},{"t":81750,"v":-275},{"t":82250,"v":-250},{"t":82750,"v":-310},{"t":83250,"v":-285},{"t":83750,"v":-235},{"t":84250,"v":-320},{"t":84750,"v":-265},{"t":85250,"v":-295},{"t":85750,"v":-245},{"t":86250,"v":-305},{"t":86750,"v":-270},{"t":87250,"v":-230},{"t":87750,"v":-315},{"t":88250,"v":-280},{"t":88750,"v":-255},{"t":89250,"v":-300},{"t":89750,"v":-220},{"t":90250,"v":-275},{"t":90750,"v":-310},{"t":91250,"v":-250},{"t":91750,"v":-290},{"t":92250,"v":-215},{"t":92750,"v":-305},{"t":93250,"v":-265},{"t":93750,"v":-240},{"t":94250,"v":-295},{"t":94750,"v":-255},{"t":95250,"v":-280},{"t":95750,"v":-230},{"t":96250,"v":-300},{"t":96750,"v":-260},{"t":97250,"v":-310},{"t":97750,"v":-245},{"t":98250,"v":-285},{"t":98750,"v":-225},{"t":99250,"v":-295},{"t":99750,"v":-250}],
    "fW": [{"t":50000,"v":-380},{"t":50500,"v":-460},{"t":51000,"v":-400},{"t":51500,"v":-490},{"t":52000,"v":-420},{"t":52500,"v":-520},{"t":53000,"v":-430},{"t":53500,"v":-480},{"t":54000,"v":-400},{"t":54500,"v":-470},{"t":55000,"v":-410},{"t":55500,"v":-450},{"t":56000,"v":-380},{"t":56500,"v":-470},{"t":57000,"v":-400},{"t":57500,"v":-440},{"t":58000,"v":-370},{"t":58500,"v":-450},{"t":59000,"v":-390},{"t":59500,"v":-460},{"t":60000,"v":-410},{"t":60500,"v":-480},{"t":61000,"v":-420},{"t":61500,"v":-470},{"t":62000,"v":-400},{"t":62500,"v":-460},{"t":63000,"v":-420},{"t":63500,"v":-490},{"t":64000,"v":-430},{"t":64500,"v":-470},{"t":65000,"v":-380},{"t":65500,"v":-440},{"t":66000,"v":-360},{"t":66500,"v":-420},{"t":67000,"v":-370},{"t":67500,"v":-430},{"t":68000,"v":-360},{"t":68500,"v":-410},{"t":69000,"v":-350},{"t":69500,"v":-420},{"t":70000,"v":-380},{"t":70500,"v":-440},{"t":71000,"v":-390},{"t":71500,"v":-460},{"t":72000,"v":-400},{"t":72500,"v":-470},{"t":73000,"v":-410},{"t":73500,"v":-450},{"t":74000,"v":-400},{"t":74500,"v":-470},{"t":75000,"v":-420},{"t":75500,"v":-480},{"t":76000,"v":-410},{"t":76500,"v":-460},{"t":77000,"v":-390},{"t":77500,"v":-450},{"t":78000,"v":-400},{"t":78500,"v":-470},{"t":79000,"v":-410},{"t":79500,"v":-440},{"t":80000,"v":-380},{"t":80500,"v":-450},{"t":81000,"v":-400},{"t":81500,"v":-430},{"t":82000,"v":-370},{"t":82500,"v":-440},{"t":83000,"v":-390},{"t":83500,"v":-460},{"t":84000,"v":-380},{"t":84500,"v":-430},{"t":85000,"v":-370},{"t":85500,"v":-440},{"t":86000,"v":-390},{"t":86500,"v":-450},{"t":87000,"v":-400},{"t":87500,"v":-470},{"t":88000,"v":-420},{"t":88500,"v":-480},{"t":89000,"v":-430},{"t":89500,"v":-500},{"t":90000,"v":-440},{"t":90500,"v":-510},{"t":91000,"v":-450},{"t":91500,"v":-530},{"t":92000,"v":-460},{"t":92500,"v":-500},{"t":93000,"v":-440},{"t":93500,"v":-520},{"t":94000,"v":-450},{"t":94500,"v":-490},{"t":95000,"v":-430},{"t":95500,"v":-480},{"t":96000,"v":-420},{"t":96500,"v":-470},{"t":97000,"v":-400},{"t":97500,"v":-460},{"t":98000,"v":-380},{"t":98500,"v":-440},{"t":99000,"v":-360},{"t":99500,"v":-420},{"t":100000,"v":-340},
      {"t":50250,"v":-430},{"t":50750,"v":-500},{"t":51250,"v":-445},{"t":51750,"v":-470},{"t":52250,"v":-395},{"t":52750,"v":-485},{"t":53250,"v":-450},{"t":53750,"v":-415},{"t":54250,"v":-505},{"t":54750,"v":-440},{"t":55250,"v":-425},{"t":55750,"v":-380},{"t":56250,"v":-455},{"t":56750,"v":-410},{"t":57250,"v":-475},{"t":57750,"v":-395},{"t":58250,"v":-430},{"t":58750,"v":-460},{"t":59250,"v":-405},{"t":59750,"v":-440},{"t":60250,"v":-455},{"t":60750,"v":-415},{"t":61250,"v":-490},{"t":61750,"v":-430},{"t":62250,"v":-450},{"t":62750,"v":-395},{"t":63250,"v":-475},{"t":63750,"v":-440},{"t":64250,"v":-415},{"t":64750,"v":-460},{"t":65250,"v":-400},{"t":65750,"v":-350},{"t":66250,"v":-425},{"t":66750,"v":-385},{"t":67250,"v":-410},{"t":67750,"v":-345},{"t":68250,"v":-395},{"t":68750,"v":-420},{"t":69250,"v":-375},{"t":69750,"v":-400},{"t":70250,"v":-425},{"t":70750,"v":-470},{"t":71250,"v":-415},{"t":71750,"v":-445},{"t":72250,"v":-385},{"t":72750,"v":-455},{"t":73250,"v":-430},{"t":73750,"v":-480},{"t":74250,"v":-420},{"t":74750,"v":-440},{"t":75250,"v":-455},{"t":75750,"v":-410},{"t":76250,"v":-440},{"t":76750,"v":-395},{"t":77250,"v":-465},{"t":77750,"v":-425},{"t":78250,"v":-380},{"t":78750,"v":-450},{"t":79250,"v":-415},{"t":79750,"v":-435},{"t":80250,"v":-420},{"t":80750,"v":-385},{"t":81250,"v":-445},{"t":81750,"v":-410},{"t":82250,"v":-395},{"t":82750,"v":-430},{"t":83250,"v":-360},{"t":83750,"v":-415},{"t":84250,"v":-445},{"t":84750,"v":-400},{"t":85250,"v":-410},{"t":85750,"v":-380},{"t":86250,"v":-440},{"t":86750,"v":-425},{"t":87250,"v":-455},{"t":87750,"v":-435},{"t":88250,"v":-400},{"t":88750,"v":-445},{"t":89250,"v":-470},{"t":89750,"v":-420},{"t":90250,"v":-475},{"t":90750,"v":-440},{"t":91250,"v":-495},{"t":91750,"v":-460},{"t":92250,"v":-485},{"t":92750,"v":-520},{"t":93250,"v":-470},{"t":93750,"v":-505},{"t":94250,"v":-455},{"t":94750,"v":-490},{"t":95250,"v":-470},{"t":95750,"v":-505},{"t":96250,"v":-445},{"t":96750,"v":-490},{"t":97250,"v":-460},{"t":97750,"v":-440},{"t":98250,"v":-410},{"t":98750,"v":-425},{"t":99250,"v":-385},{"t":99750,"v":-370}],
    "fS": [{"t":50000,"v":-250},{"t":50500,"v":-330},{"t":51000,"v":-280},{"t":51500,"v":-360},{"t":52000,"v":-290},{"t":52500,"v":-340},{"t":53000,"v":-270},{"t":53500,"v":-350},{"t":54000,"v":-300},{"t":54500,"v":-380},{"t":55000,"v":-310},{"t":55500,"v":-360},{"t":56000,"v":-290},{"t":56500,"v":-340},{"t":57000,"v":-260},{"t":57500,"v":-330},{"t":58000,"v":-280},{"t":58500,"v":-350},{"t":59000,"v":-300},{"t":59500,"v":-370},{"t":60000,"v":-290},{"t":60500,"v":-330},{"t":61000,"v":-260},{"t":61500,"v":-320},{"t":62000,"v":-240},{"t":62500,"v":-300},{"t":63000,"v":-220},{"t":63500,"v":-290},{"t":64000,"v":-230},{"t":64500,"v":-280},{"t":65000,"v":-200},{"t":65500,"v":-260},{"t":66000,"v":-180},{"t":66500,"v":-230},{"t":67000,"v":-150},{"t":67500,"v":-200},{"t":68000,"v":-110},{"t":68500,"v":-210},{"t":69000,"v":-260},{"t":69500,"v":-330},{"t":70000,"v":-280},{"t":70500,"v":-360},{"t":71000,"v":-300},{"t":71500,"v":-390},{"t":72000,"v":-330},{"t":72500,"v":-410},{"t":73000,"v":-350},{"t":73500,"v":-430},{"t":74000,"v":-370},{"t":74500,"v":-420},{"t":75000,"v":-360},{"t":75500,"v":-440},{"t":76000,"v":-380},{"t":76500,"v":-420},{"t":77000,"v":-360},{"t":77500,"v":-430},{"t":78000,"v":-370},{"t":78500,"v":-410},{"t":79000,"v":-340},{"t":79500,"v":-400},{"t":80000,"v":-330},{"t":80500,"v":-380},{"t":81000,"v":-320},{"t":81500,"v":-370},{"t":82000,"v":-300},{"t":82500,"v":-350},{"t":83000,"v":-270},{"t":83500,"v":-300},{"t":84000,"v":-220},{"t":84500,"v":-280},{"t":85000,"v":-200},{"t":85500,"v":-260},{"t":86000,"v":-160},{"t":86500,"v":-250},{"t":87000,"v":-200},{"t":87500,"v":-300},{"t":88000,"v":-250},{"t":88500,"v":-340},{"t":89000,"v":-280},{"t":89500,"v":-360},{"t":90000,"v":-300},{"t":90500,"v":-350},{"t":91000,"v":-290},{"t":91500,"v":-370},{"t":92000,"v":-310},{"t":92500,"v":-380},{"t":93000,"v":-320},{"t":93500,"v":-400},{"t":94000,"v":-340},{"t":94500,"v":-420},{"t":95000,"v":-350},{"t":95500,"v":-400},{"t":96000,"v":-340},{"t":96500,"v":-430},{"t":97000,"v":-370},{"t":97500,"v":-460},{"t":98000,"v":-390},{"t":98500,"v":-520},{"t":99000,"v":-400},{"t":99500,"v":-450},{"t":100000,"v":-380},
      {"t":50250,"v":-300},{"t":50750,"v":-350},{"t":51250,"v":-270},{"t":51750,"v":-330},{"t":52250,"v":-310},{"t":52750,"v":-365},{"t":53250,"v":-290},{"t":53750,"v":-340},{"t":54250,"v":-335},{"t":54750,"v":-350},{"t":55250,"v":-345},{"t":55750,"v":-300},{"t":56250,"v":-320},{"t":56750,"v":-280},{"t":57250,"v":-305},{"t":57750,"v":-355},{"t":58250,"v":-310},{"t":58750,"v":-330},{"t":59250,"v":-345},{"t":59750,"v":-320},{"t":60250,"v":-305},{"t":60750,"v":-280},{"t":61250,"v":-290},{"t":61750,"v":-250},{"t":62250,"v":-275},{"t":62750,"v":-250},{"t":63250,"v":-265},{"t":63750,"v":-240},{"t":64250,"v":-265},{"t":64750,"v":-245},{"t":65250,"v":-230},{"t":65750,"v":-205},{"t":66250,"v":-210},{"t":66750,"v":-160},{"t":67250,"v":-180},{"t":67750,"v":-130},{"t":68250,"v":-170},{"t":68750,"v":-240},{"t":69250,"v":-300},{"t":69750,"v":-300},{"t":70250,"v":-330},{"t":70750,"v":-330},{"t":71250,"v":-360},{"t":71750,"v":-350},{"t":72250,"v":-380},{"t":72750,"v":-375},{"t":73250,"v":-410},{"t":73750,"v":-390},{"t":74250,"v":-390},{"t":74750,"v":-410},{"t":75250,"v":-395},{"t":75750,"v":-420},{"t":76250,"v":-390},{"t":76750,"v":-435},{"t":77250,"v":-395},{"t":77750,"v":-410},{"t":78250,"v":-380},{"t":78750,"v":-395},{"t":79250,"v":-360},{"t":79750,"v":-375},{"t":80250,"v":-350},{"t":80750,"v":-345},{"t":81250,"v":-330},{"t":81750,"v":-320},{"t":82250,"v":-310},{"t":82750,"v":-290},{"t":83250,"v":-270},{"t":83750,"v":-250},{"t":84250,"v":-240},{"t":84750,"v":-230},{"t":85250,"v":-200},{"t":85750,"v":-215},{"t":86250,"v":-190},{"t":86750,"v":-220},{"t":87250,"v":-240},{"t":87750,"v":-275},{"t":88250,"v":-290},{"t":88750,"v":-310},{"t":89250,"v":-300},{"t":89750,"v":-330},{"t":90250,"v":-320},{"t":90750,"v":-310},{"t":91250,"v":-330},{"t":91750,"v":-340},{"t":92250,"v":-340},{"t":92750,"v":-365},{"t":93250,"v":-360},{"t":93750,"v":-375},{"t":94250,"v":-380},{"t":94750,"v":-390},{"t":95250,"v":-375},{"t":95750,"v":-370},{"t":96250,"v":-390},{"t":96750,"v":-400},{"t":97250,"v":-420},{"t":97750,"v":-470},{"t":98250,"v":-430},{"t":98750,"v":-460},{"t":99250,"v":-420},{"t":99750,"v":-400}],
    "fV": [{"t":50000,"v":-480},{"t":50500,"v":-620},{"t":51000,"v":-540},{"t":51500,"v":-700},{"t":52000,"v":-580},{"t":52500,"v":-730},{"t":53000,"v":-600},{"t":53500,"v":-680},{"t":54000,"v":-560},{"t":54500,"v":-650},{"t":55000,"v":-520},{"t":55500,"v":-620},{"t":56000,"v":-540},{"t":56500,"v":-660},{"t":57000,"v":-560},{"t":57500,"v":-700},{"t":58000,"v":-530},{"t":58500,"v":-610},{"t":59000,"v":-480},{"t":59500,"v":-580},{"t":60000,"v":-460},{"t":60500,"v":-560},{"t":61000,"v":-470},{"t":61500,"v":-600},{"t":62000,"v":-500},{"t":62500,"v":-560},{"t":63000,"v":-450},{"t":63500,"v":-540},{"t":64000,"v":-480},{"t":64500,"v":-600},{"t":65000,"v":-520},{"t":65500,"v":-640},{"t":66000,"v":-540},{"t":66500,"v":-700},{"t":67000,"v":-560},{"t":67500,"v":-620},{"t":68000,"v":-500},{"t":68500,"v":-580},{"t":69000,"v":-460},{"t":69500,"v":-560},{"t":70000,"v":-480},{"t":70500,"v":-600},{"t":71000,"v":-500},{"t":71500,"v":-640},{"t":72000,"v":-520},{"t":72500,"v":-610},{"t":73000,"v":-470},{"t":73500,"v":-560},{"t":74000,"v":-440},{"t":74500,"v":-540},{"t":75000,"v":-460},{"t":75500,"v":-560},{"t":76000,"v":-480},{"t":76500,"v":-600},{"t":77000,"v":-500},{"t":77500,"v":-660},{"t":78000,"v":-540},{"t":78500,"v":-620},{"t":79000,"v":-480},{"t":79500,"v":-580},{"t":80000,"v":-450},{"t":80500,"v":-540},{"t":81000,"v":-420},{"t":81500,"v":-520},{"t":82000,"v":-440},{"t":82500,"v":-560},{"t":83000,"v":-460},{"t":83500,"v":-540},{"t":84000,"v":-480},{"t":84500,"v":-600},{"t":85000,"v":-500},{"t":85500,"v":-580},{"t":86000,"v":-460},{"t":86500,"v":-540},{"t":87000,"v":-440},{"t":87500,"v":-560},{"t":88000,"v":-480},{"t":88500,"v":-620},{"t":89000,"v":-520},{"t":89500,"v":-660},{"t":90000,"v":-540},{"t":90500,"v":-700},{"t":91000,"v":-560},{"t":91500,"v":-640},{"t":92000,"v":-500},{"t":92500,"v":-600},{"t":93000,"v":-460},{"t":93500,"v":-560},{"t":94000,"v":-440},{"t":94500,"v":-540},{"t":95000,"v":-420},{"t":95500,"v":-560},{"t":96000,"v":-460},{"t":96500,"v":-600},{"t":97000,"v":-480},{"t":97500,"v":-680},{"t":98000,"v":-500},{"t":98500,"v":-580},{"t":99000,"v":-420},{"t":99500,"v":-540},{"t":100000,"v":-400},
      {"t":50250,"v":-560},{"t":50750,"v":-660},{"t":51250,"v":-600},{"t":51750,"v":-690},{"t":52250,"v":-640},{"t":52750,"v":-670},{"t":53250,"v":-580},{"t":53750,"v":-620},{"t":54250,"v":-600},{"t":54750,"v":-580},{"t":55250,"v":-570},{"t":55750,"v":-600},{"t":56250,"v":-590},{"t":56750,"v":-610},{"t":57250,"v":-620},{"t":57750,"v":-640},{"t":58250,"v":-570},{"t":58750,"v":-550},{"t":59250,"v":-520},{"t":59750,"v":-530},{"t":60250,"v":-510},{"t":60750,"v":-520},{"t":61250,"v":-530},{"t":61750,"v":-560},{"t":62250,"v":-520},{"t":62750,"v":-500},{"t":63250,"v":-490},{"t":63750,"v":-510},{"t":64250,"v":-520},{"t":64750,"v":-560},{"t":65250,"v":-580},{"t":65750,"v":-590},{"t":66250,"v":-620},{"t":66750,"v":-650},{"t":67250,"v":-590},{"t":67750,"v":-560},{"t":68250,"v":-540},{"t":68750,"v":-520},{"t":69250,"v":-500},{"t":69750,"v":-520},{"t":70250,"v":-540},{"t":70750,"v":-550},{"t":71250,"v":-570},{"t":71750,"v":-580},{"t":72250,"v":-560},{"t":72750,"v":-530},{"t":73250,"v":-500},{"t":73750,"v":-510},{"t":74250,"v":-480},{"t":74750,"v":-500},{"t":75250,"v":-510},{"t":75750,"v":-520},{"t":76250,"v":-540},{"t":76750,"v":-560},{"t":77250,"v":-580},{"t":77750,"v":-610},{"t":78250,"v":-580},{"t":78750,"v":-550},{"t":79250,"v":-530},{"t":79750,"v":-510},{"t":80250,"v":-490},{"t":80750,"v":-480},{"t":81250,"v":-470},{"t":81750,"v":-480},{"t":82250,"v":-510},{"t":82750,"v":-500},{"t":83250,"v":-490},{"t":83750,"v":-510},{"t":84250,"v":-540},{"t":84750,"v":-550},{"t":85250,"v":-530},{"t":85750,"v":-520},{"t":86250,"v":-490},{"t":86750,"v":-500},{"t":87250,"v":-490},{"t":87750,"v":-510},{"t":88250,"v":-530},{"t":88750,"v":-560},{"t":89250,"v":-580},{"t":89750,"v":-600},{"t":90250,"v":-590},{"t":90750,"v":-620},{"t":91250,"v":-540},{"t":91750,"v":-490},{"t":92250,"v":-470},{"t":92750,"v":-500},{"t":93250,"v":-520},{"t":93750,"v":-550},{"t":94250,"v":-490},{"t":94750,"v":-500},{"t":95250,"v":-530},{"t":95750,"v":-560},{"t":96250,"v":-600},{"t":96750,"v":-620},{"t":97250,"v":-580},{"t":97750,"v":-540},{"t":98250,"v":-500},{"t":98750,"v":-490},{"t":99250,"v":-460},{"t":99750,"v":-480}],
    "barsB": [
      {"x":4.475,"f":20,"g":"S494P"},{"x":4.525,"f":80,"g":"S494P"},{"x":4.57,"f":200,"g":"S494P"},{"x":4.62,"f":770,"g":"S494P"},{"x":4.67,"f":1975,"g":"S494P"},{"x":4.72,"f":1420,"g":"S494P"},{"x":4.77,"f":490,"g":"S494P"},{"x":4.82,"f":50,"g":"S494P"},
      {"x":4.49,"f":25,"g":"V367F"},{"x":4.54,"f":110,"g":"V367F"},{"x":4.59,"f":380,"g":"V367F"},{"x":4.64,"f":830,"g":"V367F"},{"x":4.69,"f":1110,"g":"V367F"},{"x":4.74,"f":1000,"g":"V367F"},{"x":4.79,"f":770,"g":"V367F"},{"x":4.84,"f":590,"g":"V367F"},{"x":4.885,"f":160,"g":"V367F"},{"x":4.93,"f":20,"g":"V367F"},
      {"x":4.705,"f":30,"g":"Wild type"},{"x":4.75,"f":350,"g":"Wild type"},{"x":4.8,"f":1185,"g":"Wild type"},{"x":4.85,"f":1610,"g":"Wild type"},{"x":4.9,"f":1225,"g":"Wild type"},{"x":4.95,"f":460,"g":"Wild type"},{"x":5.0,"f":110,"g":"Wild type"},{"x":5.05,"f":20,"g":"Wild type"}
    ],
    "fitB": [
      {"x":4.505,"y":1,"g":"S"},{"x":4.5275,"y":4,"g":"S"},{"x":4.55,"y":22,"g":"S"},{"x":4.5725,"y":87,"g":"S"},{"x":4.595,"y":267,"g":"S"},{"x":4.6175,"y":641,"g":"S"},{"x":4.64,"y":1198,"g":"S"},{"x":4.6625,"y":1743,"g":"S"},{"x":4.685,"y":1975,"g":"S"},{"x":4.7075,"y":1743,"g":"S"},{"x":4.73,"y":1198,"g":"S"},{"x":4.7525,"y":641,"g":"S"},{"x":4.775,"y":267,"g":"S"},{"x":4.7975,"y":87,"g":"S"},{"x":4.82,"y":22,"g":"S"},{"x":4.8425,"y":4,"g":"S"},{"x":4.865,"y":1,"g":"S"},
      {"x":4.43,"y":4,"g":"V"},{"x":4.445,"y":12,"g":"V"},{"x":4.4875,"y":49,"g":"V"},{"x":4.53,"y":150,"g":"V"},{"x":4.5725,"y":360,"g":"V"},{"x":4.615,"y":673,"g":"V"},{"x":4.6575,"y":980,"g":"V"},{"x":4.7,"y":1110,"g":"V"},{"x":4.7425,"y":980,"g":"V"},{"x":4.785,"y":673,"g":"V"},{"x":4.8275,"y":360,"g":"V"},{"x":4.87,"y":150,"g":"V"},{"x":4.9125,"y":49,"g":"V"},{"x":4.955,"y":12,"g":"V"},{"x":4.9975,"y":2,"g":"V"},
      {"x":4.684,"y":1,"g":"W"},{"x":4.708,"y":4,"g":"W"},{"x":4.732,"y":18,"g":"W"},{"x":4.756,"y":71,"g":"W"},{"x":4.78,"y":218,"g":"W"},{"x":4.804,"y":523,"g":"W"},{"x":4.828,"y":976,"g":"W"},{"x":4.852,"y":1421,"g":"W"},{"x":4.876,"y":1610,"g":"W"},{"x":4.9,"y":1421,"g":"W"},{"x":4.924,"y":976,"g":"W"},{"x":4.948,"y":523,"g":"W"},{"x":4.972,"y":218,"g":"W"},{"x":4.996,"y":71,"g":"W"},{"x":5.02,"y":18,"g":"W"},{"x":5.044,"y":4,"g":"W"},{"x":5.07,"y":1,"g":"W"}
    ],
    "barsC": [
      {"x":58.1,"f":15,"g":"Wild type"},{"x":58.6,"f":70,"g":"Wild type"},{"x":59.1,"f":205,"g":"Wild type"},{"x":59.6,"f":425,"g":"Wild type"},{"x":60.1,"f":715,"g":"Wild type"},{"x":60.6,"f":885,"g":"Wild type"},{"x":61.1,"f":915,"g":"Wild type"},{"x":61.6,"f":800,"g":"Wild type"},{"x":62.1,"f":550,"g":"Wild type"},{"x":62.6,"f":280,"g":"Wild type"},{"x":63.1,"f":100,"g":"Wild type"},{"x":63.6,"f":35,"g":"Wild type"},{"x":64.1,"f":8,"g":"Wild type"},
      {"x":57.9,"f":10,"g":"V367F"},{"x":58.4,"f":40,"g":"V367F"},{"x":58.9,"f":170,"g":"V367F"},{"x":59.4,"f":295,"g":"V367F"},{"x":59.9,"f":565,"g":"V367F"},{"x":60.4,"f":810,"g":"V367F"},{"x":60.9,"f":935,"g":"V367F"},{"x":61.4,"f":855,"g":"V367F"},{"x":61.9,"f":670,"g":"V367F"},{"x":62.4,"f":360,"g":"V367F"},{"x":62.9,"f":175,"g":"V367F"},{"x":63.4,"f":75,"g":"V367F"},{"x":63.9,"f":28,"g":"V367F"},{"x":64.4,"f":5,"g":"V367F"},
      {"x":59.3,"f":12,"g":"S494P"},{"x":59.8,"f":35,"g":"S494P"},{"x":60.3,"f":95,"g":"S494P"},{"x":60.8,"f":195,"g":"S494P"},{"x":61.3,"f":360,"g":"S494P"},{"x":61.8,"f":530,"g":"S494P"},{"x":62.3,"f":700,"g":"S494P"},{"x":62.8,"f":780,"g":"S494P"},{"x":63.3,"f":770,"g":"S494P"},{"x":63.8,"f":670,"g":"S494P"},{"x":64.3,"f":465,"g":"S494P"},{"x":64.8,"f":205,"g":"S494P"},{"x":65.3,"f":115,"g":"S494P"},{"x":65.8,"f":40,"g":"S494P"},{"x":66.3,"f":12,"g":"S494P"}
    ],
    "fitC": [
      {"x":57.0,"y":0,"g":"V"},{"x":57.45,"y":2,"g":"V"},{"x":57.94,"y":10,"g":"V"},{"x":58.43,"y":41,"g":"V"},{"x":58.92,"y":127,"g":"V"},{"x":59.41,"y":305,"g":"V"},{"x":59.9,"y":570,"g":"V"},{"x":60.39,"y":830,"g":"V"},{"x":60.88,"y":940,"g":"V"},{"x":61.37,"y":830,"g":"V"},{"x":61.86,"y":570,"g":"V"},{"x":62.35,"y":305,"g":"V"},{"x":62.84,"y":127,"g":"V"},{"x":63.33,"y":41,"g":"V"},{"x":63.82,"y":10,"g":"V"},{"x":64.31,"y":2,"g":"V"},{"x":65.2,"y":0,"g":"V"},
      {"x":57.3,"y":0,"g":"W"},{"x":57.8,"y":2,"g":"W"},{"x":58.27,"y":10,"g":"W"},{"x":58.745,"y":40,"g":"W"},{"x":59.22,"y":124,"g":"W"},{"x":59.695,"y":297,"g":"W"},{"x":60.17,"y":555,"g":"W"},{"x":60.645,"y":807,"g":"W"},{"x":61.12,"y":915,"g":"W"},{"x":61.595,"y":807,"g":"W"},{"x":62.07,"y":555,"g":"W"},{"x":62.545,"y":297,"g":"W"},{"x":63.02,"y":124,"g":"W"},{"x":63.495,"y":40,"g":"W"},{"x":63.97,"y":10,"g":"W"},{"x":64.445,"y":2,"g":"W"},{"x":65.3,"y":0,"g":"W"},
      {"x":58.0,"y":0,"g":"S"},{"x":58.88,"y":2,"g":"S"},{"x":59.44,"y":9,"g":"S"},{"x":60.0,"y":34,"g":"S"},{"x":60.56,"y":106,"g":"S"},{"x":61.12,"y":254,"g":"S"},{"x":61.68,"y":474,"g":"S"},{"x":62.24,"y":690,"g":"S"},{"x":62.8,"y":782,"g":"S"},{"x":63.36,"y":690,"g":"S"},{"x":63.92,"y":474,"g":"S"},{"x":64.48,"y":254,"g":"S"},{"x":65.04,"y":106,"g":"S"},{"x":65.6,"y":34,"g":"S"},{"x":66.16,"y":9,"g":"S"},{"x":66.72,"y":2,"g":"S"},{"x":67.28,"y":0,"g":"S"}
    ],
    "barsD": [
      {"x":3.5,"f":5,"g":"S494P"},{"x":4.53,"f":108,"g":"S494P"},{"x":5.52,"f":517,"g":"S494P"},{"x":6.53,"f":1146,"g":"S494P"},{"x":7.54,"f":1244,"g":"S494P"},{"x":8.56,"f":980,"g":"S494P"},{"x":9.57,"f":586,"g":"S494P"},{"x":10.58,"f":280,"g":"S494P"},{"x":11.6,"f":121,"g":"S494P"},{"x":12.6,"f":45,"g":"S494P"},{"x":13.6,"f":5,"g":"S494P"},
      {"x":3.22,"f":8,"g":"Wild type"},{"x":4.22,"f":6,"g":"Wild type"},{"x":5.2,"f":34,"g":"Wild type"},{"x":6.2,"f":145,"g":"Wild type"},{"x":7.22,"f":385,"g":"Wild type"},{"x":8.2,"f":755,"g":"Wild type"},{"x":9.2,"f":1051,"g":"Wild type"},{"x":10.2,"f":1083,"g":"Wild type"},{"x":11.22,"f":853,"g":"Wild type"},{"x":12.24,"f":470,"g":"Wild type"},{"x":13.25,"f":179,"g":"Wild type"},{"x":14.32,"f":58,"g":"Wild type"},{"x":15.3,"f":26,"g":"Wild type"},{"x":16.3,"f":5,"g":"Wild type"},
      {"x":5.85,"f":8,"g":"V367F"},{"x":6.85,"f":34,"g":"V367F"},{"x":7.86,"f":108,"g":"V367F"},{"x":8.88,"f":266,"g":"V367F"},{"x":9.89,"f":586,"g":"V367F"},{"x":10.88,"f":900,"g":"V367F"},{"x":11.92,"f":1011,"g":"V367F"},{"x":12.93,"f":932,"g":"V367F"},{"x":13.94,"f":615,"g":"V367F"},{"x":14.98,"f":333,"g":"V367F"},{"x":15.95,"f":160,"g":"V367F"},{"x":16.95,"f":52,"g":"V367F"},{"x":17.95,"f":18,"g":"V367F"},{"x":18.95,"f":4,"g":"V367F"}
    ],
    "fitD": [
      {"x":2.0,"y":4,"g":"S"},{"x":2.68,"y":14,"g":"S"},{"x":3.455,"y":54,"g":"S"},{"x":4.23,"y":168,"g":"S"},{"x":5.005,"y":403,"g":"S"},{"x":5.78,"y":752,"g":"S"},{"x":6.555,"y":1094,"g":"S"},{"x":7.33,"y":1240,"g":"S"},{"x":8.105,"y":1094,"g":"S"},{"x":8.88,"y":752,"g":"S"},{"x":9.655,"y":403,"g":"S"},{"x":10.43,"y":168,"g":"S"},{"x":11.205,"y":54,"g":"S"},{"x":11.98,"y":14,"g":"S"},{"x":12.755,"y":3,"g":"S"},{"x":13.6,"y":0,"g":"S"},
      {"x":3.33,"y":0,"g":"W"},{"x":4.13,"y":2,"g":"W"},{"x":4.93,"y":12,"g":"W"},{"x":5.73,"y":47,"g":"W"},{"x":6.53,"y":146,"g":"W"},{"x":7.33,"y":351,"g":"W"},{"x":8.13,"y":655,"g":"W"},{"x":8.93,"y":953,"g":"W"},{"x":9.73,"y":1080,"g":"W"},{"x":10.53,"y":953,"g":"W"},{"x":11.33,"y":655,"g":"W"},{"x":12.13,"y":351,"g":"W"},{"x":12.93,"y":146,"g":"W"},{"x":13.73,"y":47,"g":"W"},{"x":14.53,"y":12,"g":"W"},{"x":15.33,"y":2,"g":"W"},{"x":16.13,"y":0,"g":"W"},
      {"x":3.2,"y":0,"g":"V"},{"x":4.2,"y":2,"g":"V"},{"x":5.2,"y":11,"g":"V"},{"x":6.2,"y":44,"g":"V"},{"x":7.2,"y":136,"g":"V"},{"x":8.2,"y":326,"g":"V"},{"x":9.2,"y":610,"g":"V"},{"x":10.2,"y":887,"g":"V"},{"x":11.2,"y":1005,"g":"V"},{"x":12.2,"y":887,"g":"V"},{"x":13.2,"y":610,"g":"V"},{"x":14.2,"y":326,"g":"V"},{"x":15.2,"y":136,"g":"V"},{"x":16.2,"y":44,"g":"V"},{"x":17.2,"y":11,"g":"V"},{"x":18.2,"y":2,"g":"V"},{"x":19.2,"y":0,"g":"V"}
    ]
  },
  "spacing": -15,
  "resolve": {"scale": {"color": "independent"}, "legend": {"color": "independent"}},
  "vconcat": [
    {
      "hconcat": [
        {
          "width": 217, "height": 175.5,
          "title": {"text": "A", "dx": -45, "dy": 13.5},
          "encoding": {
            "x": {"field": "t", "type": "quantitative",
              "scale": {"domain": [0, 100000], "range": [0, 201], "nice": false},
              "axis": {"title": "Simulation time (ps)", "titleFontSize": 12, "values": [0, 20000, 40000, 60000, 80000, 100000], "format": "d", "titlePadding": 3}},
            "y": {"field": "v", "type": "quantitative",
              "scale": {"domain": [0, 0.35], "range": [175.5, 15.5], "nice": false},
              "axis": {"title": "RBD RMSD (nm)", "titleFontSize": 9.5, "values": [0, 0.05, 0.1, 0.15, 0.2, 0.25, 0.3, 0.35], "format": ".2f", "titlePadding": 9, "labelPadding": 1}}
          },
          "layer": [
            {"data": {"name": "aW"}, "mark": {"type": "line", "strokeWidth": 1},
              "encoding": {"color": {"datum": "Wild type",
                "scale": {"domain": ["Wild type", "S494P", "V367F"], "range": ["#000000", "#4e9a22", "#e8892f"]},
                "legend": {"title": null, "orient": "none", "legendX": 134, "legendY": 1.5, "symbolType": "stroke", "symbolSize": 360, "symbolStrokeWidth": 1.5}}}},
            {"data": {"name": "aS"}, "mark": {"type": "line", "strokeWidth": 1}, "encoding": {"color": {"datum": "S494P"}}},
            {"data": {"name": "aV"}, "mark": {"type": "line", "strokeWidth": 1}, "encoding": {"color": {"datum": "V367F"}}}
          ]
        },
        {
          "width": 209, "height": 176,
          "view": {"stroke": "black", "strokeWidth": 1},
          "title": {"text": "B", "dx": -50, "dy": 12.5},
          "encoding": {
            "x": {"field": "x", "type": "quantitative",
              "scale": {"domain": [4.4, 5.1], "nice": false},
              "axis": {"title": "ACE2-RBD distance (nm)", "titleFontSize": 11, "values": [4.4, 4.5, 4.6, 4.7, 4.8, 4.9, 5.0, 5.1], "format": ".1f", "titlePadding": 3}}
          },
          "layer": [
            {"data": {"name": "barsB"}, "mark": {"type": "bar", "orient": "vertical", "size": 4.5, "stroke": "#555", "strokeWidth": 0.4},
              "encoding": {
                "y": {"field": "f", "type": "quantitative", "scale": {"domain": [0, 2100], "nice": false},
                  "axis": {"title": "Frequency", "titleFontSize": 11, "values": [0, 500, 1000, 1500, 2000], "format": "d", "titlePadding": 4, "labelPadding": 4}},
                "color": {"field": "g", "type": "nominal",
                  "scale": {"domain": ["Wild type", "S494P", "V367F"], "range": ["#000000", "#3f7d1c", "#e07b2c"]},
                  "legend": {"title": null, "orient": "none", "legendX": 146, "legendY": 3.5, "symbolType": "M-1,-0.55H1V0.55H-1Z", "symbolSize": 324, "symbolStrokeWidth": 0.5, "symbolStrokeColor": "#666"}}}},
            {"data": {"name": "fitB"}, "mark": {"type": "line", "color": "#e04bc4", "strokeWidth": 1, "interpolate": "monotone"},
              "encoding": {"y": {"field": "y", "type": "quantitative"}, "detail": {"field": "g"}}}
          ]
        },
        {
          "width": 218, "height": 178,
          "view": {"stroke": "black", "strokeWidth": 1},
          "title": {"text": "C", "dx": -46, "dy": 13.5},
          "encoding": {
            "x": {"field": "x", "type": "quantitative",
              "scale": {"domain": [56.95, 67.3], "nice": false, "zero": false},
              "axis": {"title": "ACE2-RBD contact area (nm²)", "titleFontSize": 11, "values": [58, 60, 62, 64, 66], "titlePadding": 3}}
          },
          "layer": [
            {"data": {"name": "barsC"}, "mark": {"type": "bar", "orient": "vertical", "size": 3.5, "stroke": "#555", "strokeWidth": 0.4},
              "encoding": {
                "y": {"field": "f", "type": "quantitative", "scale": {"domain": [0, 1000], "nice": false},
                  "axis": {"title": "Frequency", "titleFontSize": 11, "values": [0, 200, 400, 600, 800, 1000], "format": "d", "titlePadding": 6, "labelPadding": 1}},
                "color": {"field": "g", "type": "nominal",
                  "scale": {"domain": ["Wild type", "S494P", "V367F"], "range": ["#000000", "#3f7d1c", "#e07b2c"]},
                  "legend": {"title": null, "orient": "none", "legendX": 149, "legendY": 4.5, "symbolType": "M-1,-0.55H1V0.55H-1Z", "symbolSize": 324, "symbolStrokeWidth": 0.5, "symbolStrokeColor": "#666"}}}},
            {"data": {"name": "fitC"}, "mark": {"type": "line", "color": "#e04bc4", "strokeWidth": 1, "interpolate": "monotone"},
              "encoding": {"y": {"field": "y", "type": "quantitative"}, "detail": {"field": "g"}}}
          ]
        }
      ],
      "spacing": 47,
      "bounds": "flush",
      "resolve": {"scale": {"color": "independent"}, "legend": {"color": "independent"}}
    },
    {
      "hconcat": [
        {
          "width": 225, "height": 176,
          "view": {"stroke": "black", "strokeWidth": 1},
          "title": {"text": "D", "dx": -45, "dy": 0},
          "encoding": {
            "x": {"field": "x", "type": "quantitative",
              "scale": {"domain": [2, 20], "nice": false, "zero": false},
              "axis": {"title": "Number of h-bonds between ACE2 and RBD", "titleFontSize": 12, "values": [2, 4, 6, 8, 10, 12, 14, 16, 18, 20], "titlePadding": 2}}
          },
          "layer": [
            {"data": {"name": "barsD"}, "mark": {"type": "bar", "orient": "vertical", "size": 3.6, "stroke": "#555", "strokeWidth": 0.4},
              "encoding": {
                "y": {"field": "f", "type": "quantitative", "scale": {"domain": [0, 1400], "nice": false},
                  "axis": {"title": "Frequency", "titleFontSize": 11, "values": [0, 200, 400, 600, 800, 1000, 1200, 1400], "format": "d", "titlePadding": 6, "labelPadding": 1}},
                "color": {"field": "g", "type": "nominal",
                  "scale": {"domain": ["Wild type", "S494P", "V367F"], "range": ["#000000", "#3f7d1c", "#e07b2c"]},
                  "legend": {"title": null, "orient": "none", "legendX": 159, "legendY": 4, "symbolType": "M-1,-0.55H1V0.55H-1Z", "symbolSize": 324, "symbolStrokeWidth": 0.5, "symbolStrokeColor": "#666"}}}},
            {"data": {"name": "fitD"}, "mark": {"type": "line", "color": "#e04bc4", "strokeWidth": 1, "interpolate": "monotone"},
              "encoding": {"y": {"field": "y", "type": "quantitative"}, "detail": {"field": "g"}}}
          ]
        },
        {
          "width": 200, "height": 178,
          "title": {"text": "E", "dx": -54, "dy": -4},
          "encoding": {
            "x": {"field": "t", "type": "quantitative",
              "scale": {"domain": [50000, 100000], "nice": false, "zero": false},
              "axis": {"title": "Simulation time (ps)", "titleFontSize": 8.5, "labelFontSize": 10.5, "values": [50000, 60000, 70000, 80000, 90000, 100000], "format": "d", "titlePadding": 4}},
            "y": {"field": "v", "type": "quantitative",
              "scale": {"domain": [-500, 0], "range": [178, 11], "nice": false},
              "axis": {"title": "ACE2-RBD vdW interaction energy (kJ/mol)", "titleFontSize": 8.5, "labelFontSize": 10.5, "values": [-500, -400, -300, -200, -100, 0], "titlePadding": 4, "labelPadding": 2}}
          },
          "layer": [
            {"data": {"name": "eW"}, "mark": {"type": "line", "strokeWidth": 1},
              "encoding": {"color": {"datum": "Wild type",
                "scale": {"domain": ["Wild type", "S494P", "V367F"], "range": ["#000000", "#4a9a1e", "#ee8a30"]},
                "legend": {"title": null, "orient": "none", "legendX": 141, "legendY": 0, "symbolType": "stroke", "symbolSize": 360, "symbolStrokeWidth": 1.5}}}},
            {"data": {"name": "eS"}, "mark": {"type": "line", "strokeWidth": 1}, "encoding": {"color": {"datum": "S494P"}}},
            {"data": {"name": "eV"}, "mark": {"type": "line", "strokeWidth": 1}, "encoding": {"color": {"datum": "V367F"}}}
          ]
        },
        {
          "width": 179, "height": 176,
          "title": {"text": "F", "dx": -50, "dy": -1},
          "encoding": {
            "x": {"field": "t", "type": "quantitative",
              "scale": {"domain": [50000, 100000], "nice": false, "zero": false},
              "axis": {"title": "Simulation time (ps)", "titleFontSize": 8, "labelFontSize": 10, "values": [50000, 60000, 70000, 80000, 90000, 100000], "format": "d", "titlePadding": 4}},
            "y": {"field": "v", "type": "quantitative",
              "scale": {"domain": [-800, 0], "range": [176, 19], "nice": false},
              "axis": {"title": "ACE2-RBD Coulomb interaction energy (kJ/mol)", "titleFontSize": 8, "labelFontSize": 9, "values": [-800, -700, -600, -500, -400, -300, -200, -100, 0], "titlePadding": 5, "labelPadding": 1}}
          },
          "layer": [
            {"data": {"name": "fW"}, "mark": {"type": "line", "strokeWidth": 1},
              "encoding": {"color": {"datum": "Wild type",
                "scale": {"domain": ["Wild type", "S494P", "V367F"], "range": ["#3b3b3b", "#52a22c", "#ec8630"]},
                "legend": {"title": null, "orient": "none", "legendX": 126, "legendY": 8, "symbolType": "stroke", "symbolSize": 360, "symbolStrokeWidth": 1.5}}}},
            {"data": {"name": "fS"}, "mark": {"type": "line", "strokeWidth": 1}, "encoding": {"color": {"datum": "S494P"}}},
            {"data": {"name": "fV"}, "mark": {"type": "line", "strokeWidth": 1}, "encoding": {"color": {"datum": "V367F"}}}
          ]
        }
      ],
      "spacing": 60,
      "bounds": "flush",
      "resolve": {"scale": {"color": "independent"}, "legend": {"color": "independent"}}
    }
  ]
}
